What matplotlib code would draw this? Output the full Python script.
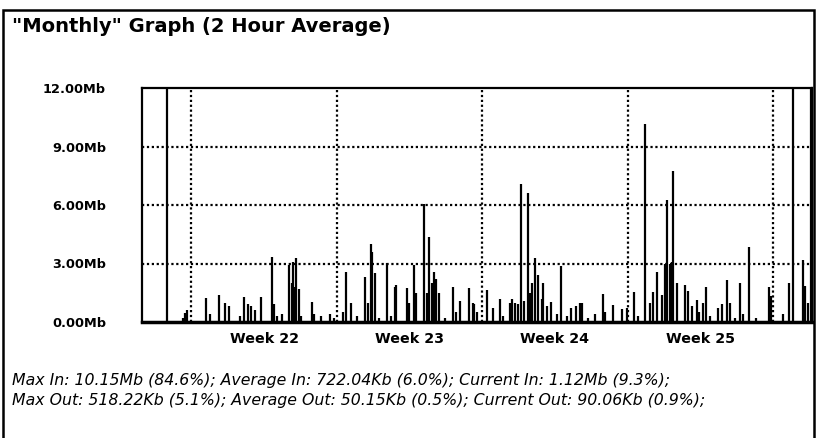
import matplotlib
matplotlib.use("Agg")
import matplotlib.pyplot as plt
from matplotlib.patches import Rectangle

# titel und statistik
titel = '"Monthly" Graph (2 Hour Average)'
statistik = [
    "Max In: 10.15Mb (84.6%); Average In: 722.04Kb (6.0%); Current In: 1.12Mb (9.3%);",
    "Max Out: 518.22Kb (5.1%); Average Out: 50.15Kb (0.5%); Current Out: 90.06Kb (0.9%);",
]

# y-achse (Mb)
y_ticks = [0, 3, 6, 9, 12]
y_labels = ["0.00Mb", "3.00Mb", "6.00Mb", "9.00Mb", "12.00Mb"]

# x-achse in stunden ab beginn woche 22
wochen_grenzen = [0, 168, 336, 504, 672]
wochen_mitte = [84, 252, 420, 588]
wochen_namen = ["Week 22", "Week 23", "Week 24", "Week 25"]
x_min, x_max = -57, 717

# 2-stunden-mittelwerte (stunde, Mb)
stunden = [-10, -7, -5, 17, 21, 32, 39, 44, 56, 61, 66, 69, 73, 81, 93, 96, 99, 105,
           113, 116, 117, 119, 121, 124, 127, 139, 142, 150, 160, 165, 175, 179, 185, 191,
           201, 204, 208, 209, 212, 217, 226, 231, 235, 237, 249, 252, 257, 260, 269, 272,
           275, 278, 280, 283, 286, 293, 302, 306, 310, 321, 325, 327, 330, 342, 348, 356,
           360, 368, 370, 374, 377, 381, 384, 389, 391, 394, 397, 400, 405, 406, 411, 416,
           422, 427, 434, 439, 444, 449, 451, 458, 466, 475, 478, 487, 498, 503, 511, 516,
           524, 530, 533, 538, 544, 547, 549, 553, 555, 557, 561, 570, 574, 578, 584, 586,
           591, 595, 599, 608, 613, 619, 622, 628, 634, 637, 644, 652, 667, 670, 683, 691,
           707, 709, 712]
werte_in = [0.2, 0.45, 0.6, 1.25, 0.4, 1.4, 1.0, 0.8, 0.3, 1.3, 0.9, 0.8, 0.6, 1.3, 3.35, 0.9, 0.3, 0.4,
            2.9, 2.0, 3.1, 1.8, 3.3, 1.7, 0.3, 1.05, 0.4, 0.3, 0.4, 0.2, 0.5, 2.55, 1.0, 0.3,
            2.3, 1.0, 4.0, 3.6, 2.5, 0.2, 3.05, 0.3, 1.8, 1.9, 1.75, 1.0, 2.9, 1.5, 6.05, 1.5,
            4.35, 2.0, 2.55, 2.2, 1.5, 0.2, 1.8, 0.5, 1.1, 1.75, 1.0, 0.9, 0.5, 1.65, 0.7, 1.2,
            0.3, 1.0, 1.2, 1.0, 0.9, 7.1, 1.1, 6.6, 1.5, 2.0, 3.3, 2.4, 1.2, 2.0, 0.8, 1.05,
            0.4, 2.85, 0.3, 0.7, 0.8, 1.0, 1.0, 0.2, 0.4, 1.45, 0.5, 0.85, 0.65, 0.7, 1.55, 0.3,
            10.15, 1.0, 1.55, 2.55, 1.4, 3.0, 6.25, 3.0, 3.1, 7.75, 2.0, 1.9, 1.6, 0.8, 1.15, 0.5,
            0.95, 1.8, 0.3, 0.7, 0.9, 2.15, 1.0, 0.2, 2.0, 0.4, 3.85, 0.2, 1.8, 1.35, 0.4, 2.0,
            3.2, 1.85, 1.0]

# durchgehende senkrechte linien (luecken / ueberlauf)
luecken = [-28, 695, 716]

fig = plt.figure(figsize=(8.16, 4.38), dpi=100)
ax = fig.add_axes([142 / 816, 1 - 322 / 438, 670 / 816, 234 / 438])

ax.vlines(stunden, 0, werte_in, color="black", linewidth=1.6)
ax.vlines(luecken, 0, 12, color="black", linewidth=1.6)

ax.set_xlim(x_min, x_max)
ax.set_ylim(0, 12)

for g in wochen_grenzen:
    ax.axvline(g, color="black", linestyle=(0, (1, 1.2)), linewidth=1.6)
for y in y_ticks[1:-1]:
    ax.axhline(y, color="black", linestyle=(0, (1, 1.2)), linewidth=1.6)

ax.set_yticks(y_ticks)
ax.set_yticklabels(y_labels, fontsize=9.3, fontweight="bold")
ax.set_xticks(wochen_mitte)
ax.set_xticklabels(wochen_namen, fontsize=10.3, fontweight="bold")
ax.tick_params(axis="both", length=0)
ax.tick_params(axis="y", pad=26)
ax.tick_params(axis="x", pad=7)

for s in ax.spines.values():
    s.set_linewidth(1.6)
ax.spines["bottom"].set_linewidth(2.5)

fig.text(12 / 816, 1 - 27 / 438, titel, fontsize=14, fontweight="bold", va="center", ha="left")

fig.text(12 / 816, 1 - 381 / 438, statistik[0], fontsize=11.3, style="italic", va="center", ha="left")
fig.text(12 / 816, 1 - 401 / 438, statistik[1], fontsize=11.3, style="italic", va="center", ha="left")

fig.patches.append(Rectangle((3 / 816, -0.05), 811 / 816, 1 - 10 / 438 + 0.05,
                             transform=fig.transFigure, fill=False, edgecolor="black",
                             linewidth=1.8))

fig.savefig("out.png", dpi=100)
